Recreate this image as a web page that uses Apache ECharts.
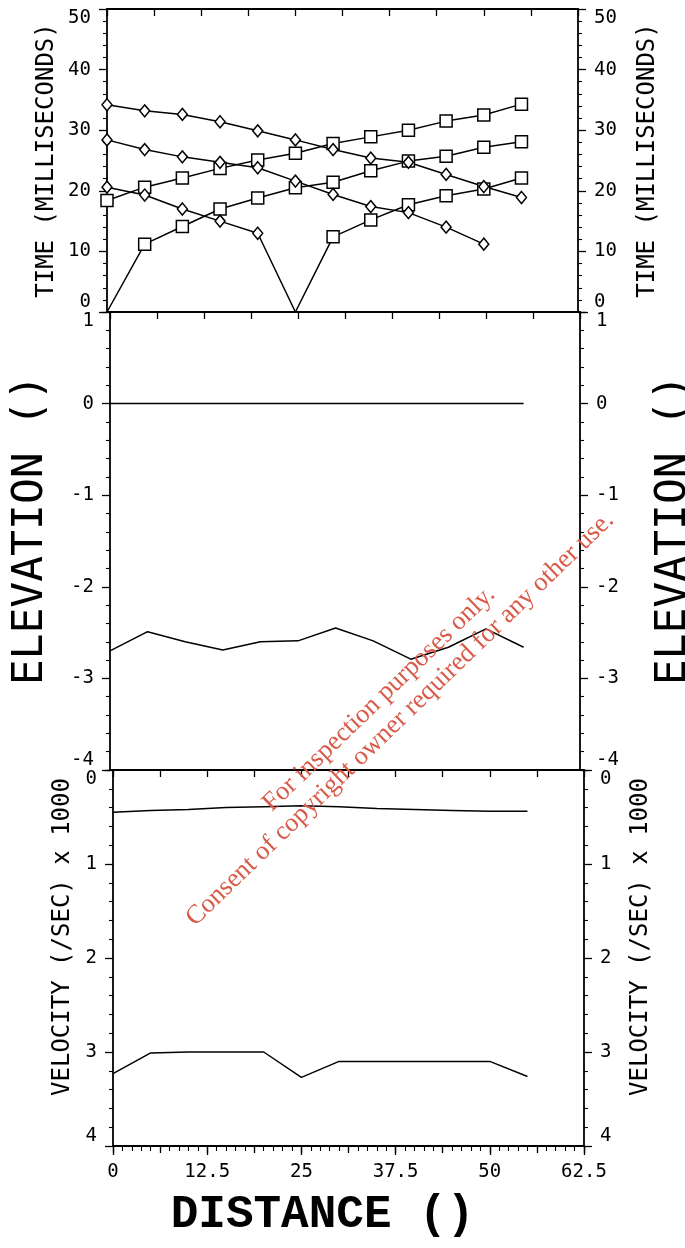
<!DOCTYPE html>
<html>
<head>
<meta charset="utf-8">
<script src="https://cdn.jsdelivr.net/npm/echarts@6/dist/echarts.min.js"></script>
<style>
html,body{margin:0;padding:0;background:#fff;}
#chart{width:685px;height:1248px;}
</style>
</head>
<body>
<div id="chart"></div>
<script>
// ---- data ----
const distance = [0, 5, 10, 15, 20, 25, 30, 35, 40, 45, 50, 55];
const distanceTicks = ['0', '12.5', '25', '37.5', '50', '62.5'];

// travel times (milliseconds) - squares (forward) and diamonds (reverse)
const timeSquares1 = [0, 11.2, 14.1, 17.0, 18.8, 20.5, 21.4, 23.3, 24.9, 25.7, 27.2, 28.1];
const timeSquares2 = [18.4, 20.6, 22.1, 23.7, 25.1, 26.2, 27.8, 28.9, 30.0, 31.5, 32.5, 34.3];
const timeSquares3 = [null, null, null, null, null, 0, 12.4, 15.2, 17.7, 19.2, 20.3, 22.1];
const timeDiamonds1 = [34.2, 33.2, 32.6, 31.4, 29.9, 28.4, 26.8, 25.4, 24.7, 22.7, 20.7, 18.9];
const timeDiamonds2 = [28.4, 26.8, 25.6, 24.7, 23.8, 21.6, 19.4, 17.4, 16.4, 14.0, 11.2, null];
const timeDiamonds3 = [20.6, 19.3, 17.0, 15.0, 13.0, 0, null, null, null, null, null, null];

// elevation
const elevationSurface = [0, 0, 0, 0, 0, 0, 0, 0, 0, 0, 0, 0];
const elevationRefractor = [-2.70, -2.49, -2.60, -2.69, -2.60, -2.59, -2.45, -2.59, -2.79, -2.66, -2.46, -2.66];

// velocity (/sec x 1000)
const velocityLayer1 = [0.45, 0.43, 0.42, 0.40, 0.39, 0.38, 0.39, 0.41, 0.42, 0.43, 0.44, 0.44];
const velocityLayer2 = [3.23, 3.01, 3.00, 3.00, 3.00, 3.27, 3.10, 3.10, 3.10, 3.10, 3.10, 3.26];

// ---- chart ----
const FONT = 'DejaVu Sans Mono';
const BLACK = '#000';

function pts(vals) {
  const out = [];
  distance.forEach((d, i) => {
    const v = vals[i];
    if (v === null || v === undefined) return;
    const item = { value: [d, v] };
    if (v === 0) item.symbol = 'none';
    out.push(item);
  });
  return out;
}
function plain(vals) {
  return distance.map((d, i) => [d, vals[i]]);
}

const grids = [
  { left: 107, width: 471, top: 9, height: 303 },
  { left: 110, width: 470, top: 312, height: 458 },
  { left: 113, width: 471, top: 770, height: 376 }
];

function xAx(grid, pos, o) {
  o = o || {};
  return {
    type: 'value', gridIndex: grid, position: pos, min: 0, max: 62.5,
    interval: o.interval || 6.25,
    axisLine: { show: o.line !== false, onZero: false, lineStyle: { color: BLACK, width: 1.8 } },
    axisTick: { show: o.tick !== false, inside: !!o.inside, length: o.tickLen || 7, lineStyle: { color: BLACK, width: 1.3 } },
    minorTick: { show: !!o.minor, splitNumber: 10, length: 5, lineStyle: { color: BLACK, width: 1.1 } },
    axisLabel: o.labels ? {
      show: true, fontFamily: FONT, fontSize: 19, color: BLACK, margin: 17,
      formatter: function (v) { const i = Math.round(v / 12.5); return distanceTicks[i] !== undefined ? distanceTicks[i] : ''; }
    } : { show: false },
    splitLine: { show: false }, minorSplitLine: { show: false },
    name: o.name || '', nameLocation: 'middle', nameGap: o.nameGap || 0,
    nameMoveOverlap: false,
    nameTextStyle: o.nameStyle || {}
  };
}

function yAx(grid, pos, o) {
  const va = {};
  if (o.vaMin) va.verticalAlignMinLabel = o.vaMin;
  if (o.vaMax) va.verticalAlignMaxLabel = o.vaMax;
  return {
    type: 'value', gridIndex: grid, position: pos, min: o.min, max: o.max, interval: o.interval,
    inverse: !!o.inverse,
    name: o.name, nameLocation: 'middle', nameGap: o.nameGap, nameRotate: 90,
    nameMoveOverlap: false,
    nameTextStyle: { fontFamily: FONT, fontSize: o.nameSize, color: BLACK, padding: o.namePad || 0 },
    axisLine: { show: true, onZero: false, lineStyle: { color: BLACK, width: 1.8 } },
    axisTick: { show: true, length: 8, lineStyle: { color: BLACK, width: 1.3 } },
    minorTick: { show: true, splitNumber: 5, length: 4, lineStyle: { color: BLACK, width: 1.1 } },
    axisLabel: Object.assign({ show: true, fontFamily: FONT, fontSize: 19, color: BLACK, margin: 16,
      showMinLabel: true, showMaxLabel: true }, va),
    splitLine: { show: false }, minorSplitLine: { show: false }
  };
}

const lineStyle = { color: BLACK, width: 1.5 };
function markerSeries(vals, symbol, size) {
  return {
    type: 'line', xAxisIndex: 0, yAxisIndex: 0, data: pts(vals),
    symbol: symbol, symbolSize: size, showAllSymbol: true,
    itemStyle: { color: '#fff', borderColor: BLACK, borderWidth: 1.5 },
    lineStyle: lineStyle, animation: false, silent: true, z: 3
  };
}
function plainSeries(xi, yi, vals) {
  return {
    type: 'line', xAxisIndex: xi, yAxisIndex: yi, data: plain(vals),
    symbol: 'none', showSymbol: false, lineStyle: lineStyle, animation: false, silent: true
  };
}

const option = {
  backgroundColor: '#fff',
  animation: false,
  grid: grids.map(g => Object.assign({ outerBoundsMode: 'none', containLabel: false, show: false }, g)),
  xAxis: [
    xAx(0, 'top', { inside: true }),                       // 0
    xAx(0, 'bottom', { tick: false }),                     // 1
    xAx(1, 'top', { inside: true }),                       // 2
    xAx(1, 'bottom', { tick: false }),                     // 3
    xAx(2, 'top', { inside: true }),                       // 4
    xAx(2, 'bottom', { interval: 12.5, labels: true, minor: true, tickLen: 9,
      name: 'DISTANCE ()', nameGap: 46,
      nameStyle: { fontFamily: 'Liberation Mono', fontSize: 46, fontWeight: 'bold', color: BLACK, padding: [0, 52, 0, 0] } }), // 5
    xAx(2, 'bottom', { line: false, tickLen: 7 })          // 6
  ],
  yAxis: [
    yAx(0, 'left', { min: 0, max: 50, interval: 10, name: 'TIME (MILLISECONDS)', nameSize: 24, nameGap: 48, vaMin: 'bottom', vaMax: 'top' }),
    yAx(0, 'right', { min: 0, max: 50, interval: 10, name: 'TIME (MILLISECONDS)', nameSize: 24, nameGap: 58, vaMin: 'bottom', vaMax: 'top' }),
    yAx(1, 'left', { min: -4, max: 1, interval: 1, name: 'ELEVATION ()', nameSize: 43, nameGap: 58, namePad: [0, 0, 0, 22], vaMin: 'bottom', vaMax: 'top' }),
    yAx(1, 'right', { min: -4, max: 1, interval: 1, name: 'ELEVATION ()', nameSize: 43, nameGap: 72, namePad: [0, 0, 0, 22], vaMin: 'bottom', vaMax: 'top' }),
    yAx(2, 'left', { min: 0, max: 4, interval: 1, inverse: true, name: 'VELOCITY (/SEC) x 1000', nameSize: 24, nameGap: 38, namePad: [0, 0, 0, 42], vaMin: 'top', vaMax: 'bottom' }),
    yAx(2, 'right', { min: 0, max: 4, interval: 1, inverse: true, name: 'VELOCITY (/SEC) x 1000', nameSize: 24, nameGap: 45, namePad: [0, 0, 0, 42], vaMin: 'top', vaMax: 'bottom' })
  ],
  series: [
    markerSeries(timeSquares1, 'rect', 12),
    markerSeries(timeSquares2, 'rect', 12),
    markerSeries(timeSquares3, 'rect', 12),
    markerSeries(timeDiamonds1, 'diamond', [10, 12]),
    markerSeries(timeDiamonds2, 'diamond', [10, 12]),
    markerSeries(timeDiamonds3, 'diamond', [10, 12]),
    plainSeries(2, 2, elevationSurface),
    plainSeries(2, 2, elevationRefractor),
    plainSeries(4, 4, velocityLayer1),
    plainSeries(4, 4, velocityLayer2)
  ],
  graphic: [
    { type: 'text', x: 379, y: 699, rotation: 44 * Math.PI / 180, z: 100, silent: true,
      style: { text: 'For inspection purposes only.', font: '26.5px "Liberation Serif"', fill: '#d85a48', align: 'center', verticalAlign: 'middle' } },
    { type: 'text', x: 400, y: 719, rotation: 44 * Math.PI / 180, z: 100, silent: true,
      style: { text: 'Consent of copyright owner required for any other use.', font: '26.5px "Liberation Serif"', fill: '#d85a48', align: 'center', verticalAlign: 'middle' } }
  ]
};

const chart = echarts.init(document.getElementById('chart'), null, { renderer: 'canvas' });
chart.setOption(option);
</script>
</body>
</html>
